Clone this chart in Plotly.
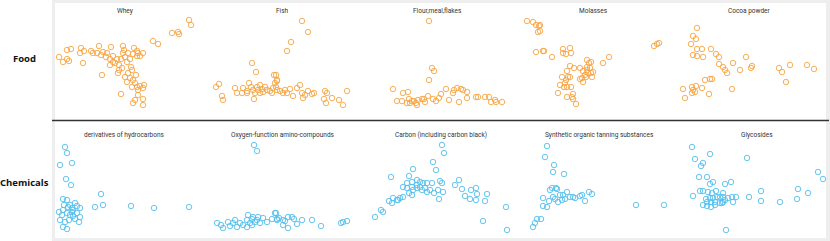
import plotly.graph_objects as go

W, H = 830, 241

# ---------------- data ----------------
row_labels = ["Food", "Chemicals"]
food_titles = ["Whey", "Fish", "Flour,meal,flakes", "Molasses", "Cocoa powder"]
chem_titles = ["derivatives of hydrocarbons", "Oxygen-function amino-compounds",
               "Carbon (including carbon black)", "Synthetic organic tanning substances",
               "Glycosides"]

whey_x = [189,191,172,178,179,153,158,59,63,67,67,69,71,81,80,84,83,91,93,97,99,101,103,106,107,111,110,113,115,117,119,119,121,123,123,124,125,127,128,130,131,132,133,134,137,137,138,140,143,128,125,127,130,133,136,135,132,137,140,143,144,138,138,143,135,133,143,121,102,118,122,113,110]
whey_y = [20,25,33,32,34,41,44,57,62,50,59,61,49,48,53,51,63,51,53,53,46,55,52,57,53,47,59,56,63,59,65,70,59,46,53,50,57,62,53,59,67,70,54,48,51,56,53,56,53,73,77,82,78,80,75,83,87,87,86,88,85,90,95,99,100,103,105,94,75,73,68,62,65]

fish_x = [216,219,222,223,235,237,243,247,249,251,253,255,257,258,260,262,263,265,267,270,273,275,277,276,252,256,254,260,247,242,302,308,291,287,274,277,276,277,280,283,285,287,290,293,297,300,302,303,305,308,312,314,325,327,324,326,332,339,343,347,372,373,377,272]
fish_y = [87,84,96,100,88,93,88,91,83,87,90,93,87,90,85,89,92,87,90,91,88,83,80,75,63,72,99,93,93,93,21,32,42,51,75,81,87,90,91,93,90,93,89,96,88,85,93,98,95,91,94,93,91,93,99,103,98,100,105,91,97,101,101,93]

flour_x = [429,432,434,429,393,403,408,397,402,409,407,410,414,417,418,422,425,424,428,433,436,439,441,446,449,453,454,457,461,463,467,467,459,476,478,485,489,491,495,496,502,412,416]
flour_y = [21,68,71,80,89,93,92,101,101,99,103,103,101,105,100,99,102,99,96,99,101,98,94,89,100,93,90,88,89,90,92,98,102,97,97,97,97,102,100,102,102,101,103]

molasses_x = [527,533,536,539,538,536,544,540,540,543,552,563,563,566,570,571,587,589,591,587,587,590,588,591,593,592,580,583,585,582,586,583,580,570,574,567,568,570,562,566,565,560,564,567,571,558,567,572,573,573,576,603,609,654,657,659]
molasses_y = [21,22,25,26,32,52,51,25,31,51,57,49,53,54,48,53,60,63,62,67,70,68,73,73,72,77,68,71,75,78,77,82,79,66,68,71,77,77,77,80,83,85,87,87,87,93,97,97,94,99,104,63,57,46,44,43]

cocoa_x = [697,693,696,691,697,702,693,697,703,711,716,719,719,723,725,727,733,740,746,751,752,779,782,790,786,807,814,705,710,712,702,709,732,683,685,692,693,696,695,692]
cocoa_y = [28,36,39,44,49,49,55,56,57,49,54,57,64,67,70,73,63,70,57,68,66,68,72,65,82,65,69,80,79,79,88,94,89,89,98,87,90,86,92,93]

deriv_x = [65,67,60,72,66,71,101,103,95,131,154,189,63,67,59,62,63,67,70,72,75,77,80,73,77,73,69,75,80,79,60,65,63,67,70,64,68,72]
deriv_y = [147,153,165,163,179,185,194,205,207,206,208,207,199,200,212,215,210,213,205,208,203,206,208,210,213,216,220,219,217,222,220,222,227,229,215,205,207,212]

oxy_x = [254,257,217,221,223,228,230,233,235,237,240,243,247,248,250,252,253,255,257,258,260,263,267,272,275,277,247,252,276,277,283,285,288,288,292,294,297,302,312,321,341,343,347,283,279]
oxy_y = [145,151,223,225,228,222,226,223,220,227,223,225,220,215,223,219,217,222,220,217,223,218,222,219,213,220,227,225,213,219,225,221,217,228,217,219,224,220,220,226,223,222,221,220,218]

carbon_x = [442,444,433,436,413,391,409,412,407,417,420,423,427,432,440,442,403,407,412,417,422,425,427,430,434,438,443,409,412,403,400,397,393,389,392,398,439,455,459,462,465,470,471,476,477,476,487,485,506,483,507,381,383,375,417,413,420]
carbon_y = [145,153,162,170,169,177,176,182,183,180,182,183,183,183,181,183,187,188,187,188,190,188,192,190,193,190,192,193,195,197,198,200,198,201,203,200,199,185,180,189,196,199,190,188,194,200,194,201,207,221,230,210,212,217,185,190,187]

synth_x = [547,545,554,553,564,552,556,557,550,560,563,567,570,573,575,580,582,585,589,592,565,562,558,555,553,549,547,543,543,541,636,664,537,535,533]
synth_y = [146,157,165,172,174,188,188,189,190,195,195,192,197,197,198,196,195,201,192,194,199,200,202,199,197,201,207,206,198,219,205,205,219,223,227]

glyco_x = [692,710,695,703,701,747,699,707,713,710,725,731,700,703,708,712,716,723,693,706,710,713,717,720,723,725,728,732,736,707,711,715,720,723,733,703,707,711,715,722,749,761,761,780,798,797,808,818,823,726]
glyco_y = [147,154,159,163,166,158,177,177,182,184,184,182,191,191,192,193,191,193,196,199,198,198,197,197,197,200,198,197,197,202,202,202,203,202,202,205,206,207,205,203,197,191,201,202,189,199,193,172,179,230]

food_series = [(whey_x, whey_y), (fish_x, fish_y), (flour_x, flour_y),
               (molasses_x, molasses_y), (cocoa_x, cocoa_y)]
chem_series = [(deriv_x, deriv_y), (oxy_x, oxy_y), (carbon_x, carbon_y),
               (synth_x, synth_y), (glyco_x, glyco_y)]

# ---------------- layout helpers ----------------
FOOD_COLOR = "#F7A646"
CHEM_COLOR = "#52C0EE"

col_edges = [52, 207, 362, 517, 672, 828]
row_edges = [(3, 119), (121, 238)]
food_title_x = [125, 282, 437, 593, 749]
chem_title_x = [124.5, 282.5, 440.5, 599.5, 757]

def px(x):
    return x / W

def py(y):
    return 1 - y / H

fig = go.Figure()
layout_axes = {}
k = 0
for r, (series, color) in enumerate([(food_series, FOOD_COLOR), (chem_series, CHEM_COLOR)]):
    top, bot = row_edges[r]
    for c, (xs, ys) in enumerate(series):
        k += 1
        xa = "x" if k == 1 else f"x{k}"
        ya = "y" if k == 1 else f"y{k}"
        left, right = col_edges[c], col_edges[c + 1]
        fig.add_trace(go.Scatter(
            x=xs, y=ys, mode="markers", xaxis=xa, yaxis=ya,
            marker=dict(symbol="circle-open", size=5.5, color=color,
                        line=dict(width=0.9, color=color)),
            cliponaxis=False, showlegend=False, hoverinfo="skip"))
        axname_x = "xaxis" if k == 1 else f"xaxis{k}"
        axname_y = "yaxis" if k == 1 else f"yaxis{k}"
        layout_axes[axname_x] = dict(domain=[px(left), px(right)], range=[left, right],
                                     visible=False, anchor=ya, fixedrange=True)
        layout_axes[axname_y] = dict(domain=[py(bot), py(top)], range=[bot, top],
                                     visible=False, anchor=xa, fixedrange=True)

fig.update_layout(**layout_axes)

shapes = [
    dict(type="rect", xref="paper", yref="paper", x0=px(52), x1=px(830), y0=py(241), y1=py(0),
         fillcolor="#eeeeee", line=dict(width=0), layer="below"),
    dict(type="rect", xref="paper", yref="paper", x0=px(55), x1=px(826), y0=py(238), y1=py(3),
         fillcolor="#ffffff", line=dict(width=0), layer="below"),
    dict(type="line", xref="paper", yref="paper", x0=px(52), x1=px(829), y0=py(120.6), y1=py(120.6),
         line=dict(color="#333333", width=1.5)),
]

annotations = []
for tx, t in zip(food_title_x, food_titles):
    annotations.append(dict(x=px(tx), y=py(11), xref="paper", yref="paper", text=t,
                            showarrow=False, xanchor="center", yanchor="middle",
                            font=dict(family="Roboto", size=6.5, color="#333333")))
for tx, t in zip(chem_title_x, chem_titles):
    annotations.append(dict(x=px(tx), y=py(135), xref="paper", yref="paper", text=t,
                            showarrow=False, xanchor="center", yanchor="middle",
                            font=dict(family="Roboto", size=6.5, color="#333333")))
for lbl, ly in zip(row_labels, [58, 182]):
    annotations.append(dict(x=px(24), y=py(ly), xref="paper", yref="paper",
                            text=f"<b>{lbl}</b>", showarrow=False, xanchor="center",
                            yanchor="middle",
                            font=dict(family="Open Sans", size=9.5, color="#111111")))

fig.update_layout(width=W, height=H, margin=dict(l=0, r=0, t=0, b=0),
                  paper_bgcolor="#ffffff", plot_bgcolor="rgba(0,0,0,0)",
                  shapes=shapes, annotations=annotations)

fig.write_html("out.html",
               config={"displayModeBar": False, "staticPlot": True},
               post_script="document.body.style.margin='0';document.body.style.padding='0';document.body.style.overflow='hidden';")
